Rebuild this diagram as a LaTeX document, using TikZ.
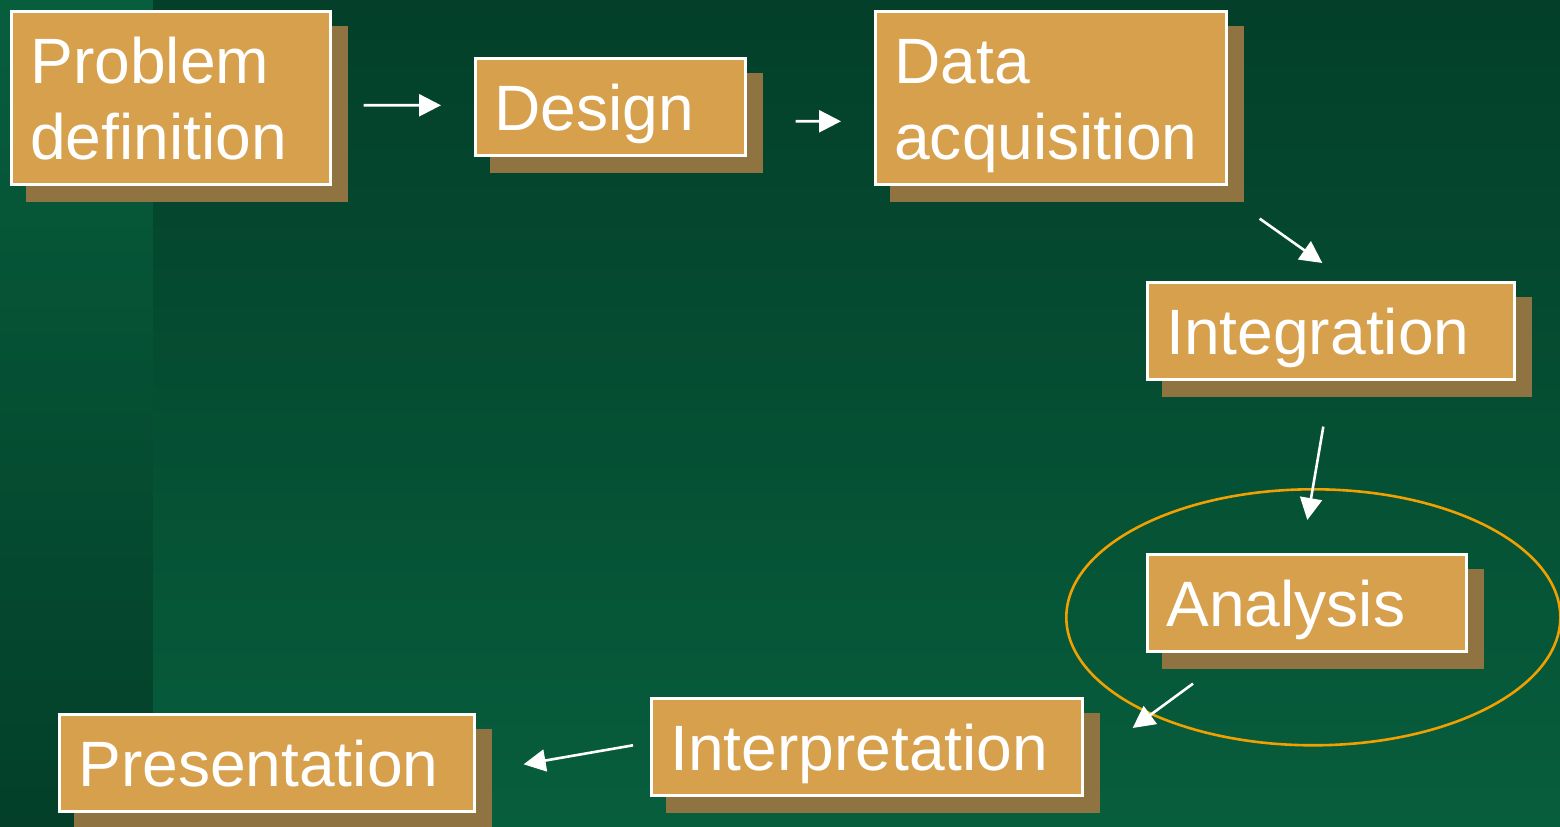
\documentclass[tikz,border=0pt]{standalone}
\usepackage{fontspec}
\setmainfont{Liberation Sans}
\definecolor{bgdark}{RGB}{3,63,41}
\definecolor{bglight}{RGB}{7,94,61}
\definecolor{boxgold}{RGB}{214,160,76}
\definecolor{boxshadow}{RGB}{143,115,64}
\definecolor{ringorange}{RGB}{240,160,0}
\usetikzlibrary{arrows.meta,shadows}

\begin{document}
\begin{tikzpicture}[
    stage/.style={draw=white, line width=0.026cm, fill=boxgold, text=white,
        anchor=north west, align=left, inner xsep=0.19cm, inner ysep=0pt,
        text height=0.72cm, text depth=0.25cm,
        font=\fontsize{18.25}{21.6}\selectfont,
        drop shadow={shadow xshift=0.16cm, shadow yshift=-0.16cm,
            fill=boxshadow, draw=boxshadow, line width=0.026cm, opacity=1}},
    twoline/.style={text depth=1.01cm},
    flow/.style={draw=white, line width=0.026cm,
        -{Triangle[length=0.22cm, width=0.22cm]}}
]
    \useasboundingbox (0,0) rectangle (15.6,8.26);

    % Background
    \shade[top color=bglight, bottom color=bgdark] (0,0) rectangle (1.53,8.26);
    \shade[top color=bgdark, bottom color=bglight] (1.53,0) rectangle (15.6,8.26);

    % Stages
    \node[stage, twoline, text width=2.81cm] (problem) at (0.10,8.16) {Problem\\definition};
    \node[stage, text width=2.32cm] (design) at (4.74,7.69) {Design};
    \node[stage, twoline, text width=3.13cm] (data) at (8.74,8.16) {Data\\acquisition};
    \node[stage, text width=3.29cm] (integration) at (11.46,5.45) {Integration};
    \node[stage, text width=2.81cm] (analysis) at (11.46,2.73) {Analysis};
    \node[stage, text width=3.93cm] (interpretation) at (6.50,1.29) {Interpretation};
    \node[stage, text width=3.77cm] (presentation) at (0.58,1.13) {Presentation};

    % Highlight
    \draw[ringorange, line width=0.026cm] ([shift={(0.065,-0.145)}]analysis.center) ellipse (2.47 and 1.28);

    % Flow
    \draw[flow] ([shift={(0.32,-0.075)}]problem.east) -- ([shift={(-0.33,0.015)}]design.west);
    \draw[flow] ([shift={(0.49,-0.145)}]design.east) -- ([shift={(-0.33,-0.235)}]data.west);
    \draw[flow] ([shift={(0.32,-0.33)}]data.south east) -- ([shift={(-0.085,0.18)}]integration.north);
    \draw[flow] ([shift={(-0.075,-0.46)}]integration.south) -- ([shift={(0.005,0.33)}]analysis.north);
    \draw[flow] ([shift={(0.47,-0.31)}]analysis.south west) -- ([shift={(0.49,-0.31)}]interpretation.north east);
    \draw[flow] ([shift={(-0.17,0.015)}]interpretation.west) -- ([shift={(0.48,-0.015)}]presentation.east);
\end{tikzpicture}
\end{document}
